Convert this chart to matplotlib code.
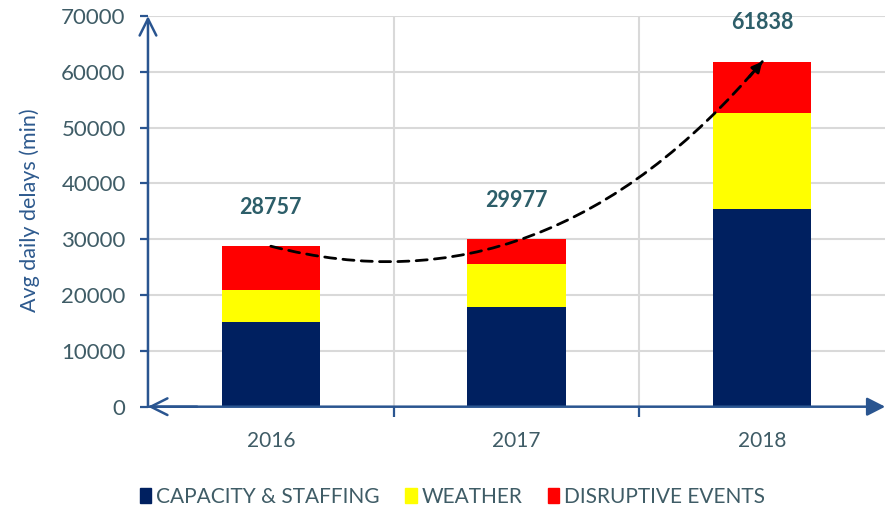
import numpy as np
import matplotlib
matplotlib.use("Agg")
import matplotlib.pyplot as plt
from matplotlib.patches import FancyArrowPatch, Patch
from matplotlib.path import Path

plt.rcParams["font.family"] = ["Lato", "DejaVu Sans"]

years = ["2016", "2017", "2018"]
capacity = [15200, 17900, 35400]
weather = [5700, 7600, 17200]
totals = [28757, 29977, 61838]
disruptive = [t - c - w for t, c, w in zip(totals, capacity, weather)]

NAVY, YELLOW, RED = "#002060", "#ffff00", "#ff0000"
AXC = "#2a5590"      # axis lines / ticks
TXT = "#3f5c66"      # tick + legend text
LBL = "#2d5e69"      # data labels

fig = plt.figure(figsize=(8.85, 5.09), dpi=100)
ax = fig.add_axes([0.1672, 0.201, 0.833, 0.7675])

x = np.arange(len(years))
ax.bar(x, capacity, 0.4, color=NAVY, zorder=3)
ax.bar(x, weather, 0.4, bottom=capacity, color=YELLOW, zorder=3)
ax.bar(x, disruptive, 0.4, bottom=np.add(capacity, weather), color=RED, zorder=3)

for xi, t in zip(x, totals):
    ax.text(xi, t + 7000, f"{t}", ha="center", va="center", fontsize=15.5,
            fontweight="bold", color=LBL, zorder=5)

ax.set_xlim(-0.5, 2.5)
ax.set_ylim(0, 70000)
for s in ax.spines.values():
    s.set_visible(False)

# grid
for yv in range(10000, 70001, 10000):
    ax.axhline(yv, color="#d9d9d9", lw=1.5, zorder=1)
for xv in (0.5, 1.5):
    ax.axvline(xv, color="#d9d9d9", lw=1.5, zorder=1)

# axis lines with arrows
ax.annotate("", xy=(-0.5, 70000), xytext=(-0.5, 0),
            arrowprops=dict(arrowstyle="->,head_length=0.6,head_width=0.3", color=AXC,
                            lw=1.8, mutation_scale=20, shrinkA=0, shrinkB=0),
            annotation_clip=False, zorder=4)
ax.annotate("", xy=(2.5, 0), xytext=(-0.5, 0),
            arrowprops=dict(arrowstyle="-|>,head_length=0.55,head_width=0.28", color=AXC,
                            lw=1.8, mutation_scale=20, shrinkA=0, shrinkB=0),
            annotation_clip=False, zorder=4)
ax.annotate("", xy=(-0.5, 0), xytext=(-0.3, 0),
            arrowprops=dict(arrowstyle="->,head_length=0.6,head_width=0.3", color=AXC,
                            lw=1.8, mutation_scale=20, shrinkA=0, shrinkB=0),
            annotation_clip=False, zorder=4)

ax.set_yticks(range(0, 70001, 10000))
ax.tick_params(axis="y", length=6, width=1.6, color=AXC, labelsize=16,
               labelcolor=TXT, pad=10)
ax.set_xticks([0.5, 1.5])
ax.set_xticklabels([])
ax.tick_params(axis="x", length=7, width=1.6, color=AXC, direction="out")
for xi, yr in zip(x, years):
    ax.text(xi, -6200, yr, ha="center", va="center", fontsize=15, color=TXT)

fig.text(30 / 885, 0.5867, "Avg daily delays (min)", rotation=90, ha="center", va="center",
         fontsize=15.5, color="#2e5a8e")

# trend arrow (quadratic bezier from 2016 top to 2018 top)
ctrl = (1.12, 16000)
p0 = (0, totals[0])
p2 = (2, totals[2])
curve = FancyArrowPatch(path=Path([p0, ctrl, p2], [Path.MOVETO, Path.CURVE3, Path.CURVE3]),
                        arrowstyle="-", color="black", lw=2.0, linestyle=(0, (4, 2.6)), zorder=6)
ax.add_patch(curve)
tail = (p2[0] - 0.06 * (p2[0] - ctrl[0]), p2[1] - 0.06 * (p2[1] - ctrl[1]))
ax.annotate("", xy=p2, xytext=tail,
            arrowprops=dict(arrowstyle="-|>", color="black", lw=2.0, mutation_scale=15,
                            shrinkA=0, shrinkB=0), zorder=6)

handles = [Patch(color=NAVY), Patch(color=YELLOW), Patch(color=RED)]
leg = fig.legend(handles, ["CAPACITY & STAFFING", "WEATHER", "DISRUPTIVE EVENTS"],
                 loc="center left", bbox_to_anchor=(0.158, 0.0236), ncol=3, frameon=False,
                 fontsize=15, handlelength=0.55, handleheight=0.75, handletextpad=0.25,
                 columnspacing=1.2, borderpad=0, borderaxespad=0)
for t in leg.get_texts():
    t.set_color(TXT)

fig.savefig("out.png", dpi=100)
